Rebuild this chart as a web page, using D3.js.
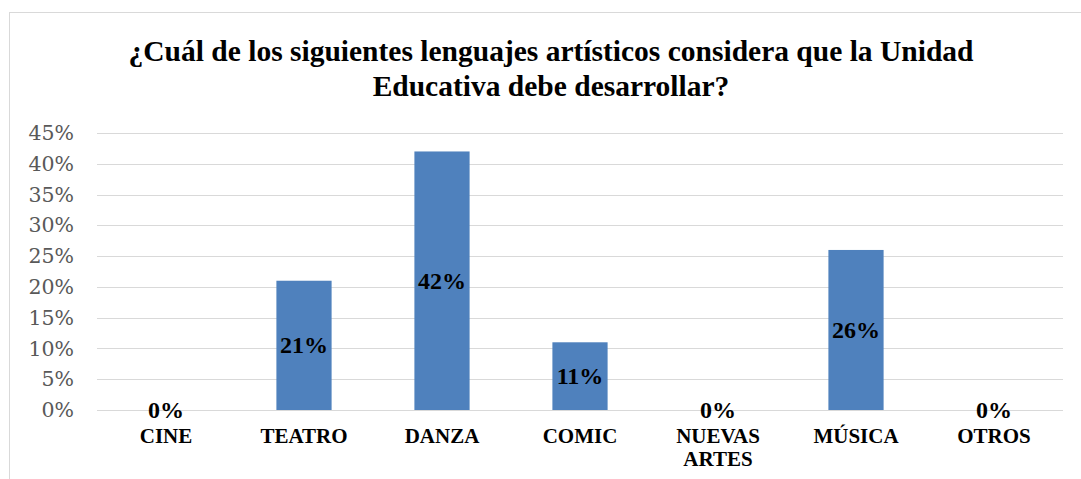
<!DOCTYPE html>
<html>
<head>
<meta charset="utf-8">
<script src="https://cdn.jsdelivr.net/npm/d3@7"></script>
<style>
  body { margin: 0; background: #fff; }
</style>
</head>
<body>
<div id="chart"></div>
<script>
// data
var categories = ["CINE", "TEATRO", "DANZA", "COMIC", "NUEVAS ARTES", "MÚSICA", "OTROS"];
var values = [0, 0.21, 0.42, 0.11, 0, 0.26, 0];
var yTicks = [0, 0.05, 0.10, 0.15, 0.20, 0.25, 0.30, 0.35, 0.40, 0.45];
var titleLines = ["¿Cuál de los siguientes lenguajes artísticos considera que la Unidad",
                  "Educativa debe desarrollar?"];

var W = 1081, H = 479;
var margin = {top: 133, right: 18, bottom: 69, left: 97},
    width = W - margin.left - margin.right,
    height = H - margin.top - margin.bottom;

var svg = d3.select("#chart")
  .append("svg")
    .attr("width", W)
    .attr("height", H);

// outer chart border
svg.append("rect")
  .attr("x", 9.5).attr("y", 12.5)
  .attr("width", W).attr("height", H)
  .style("fill", "none")
  .style("stroke", "#d9d9d9");

// title
svg.append("text")
  .attr("x", 551)
  .attr("text-anchor", "middle")
  .style("font-family", "'Liberation Serif', 'Times New Roman', serif")
  .style("font-weight", "bold")
  .style("font-size", "29.5px")
  .selectAll("tspan")
  .data(titleLines)
  .enter()
  .append("tspan")
    .attr("x", 551)
    .attr("y", function(d, i) { return 61 + i * 35; })
    .text(function(d) { return d; });

var g = svg.append("g")
  .attr("transform", "translate(" + margin.left + "," + margin.top + ")");

var x = d3.scaleBand()
  .domain(categories)
  .range([0, width])
  .paddingInner(0.6)
  .paddingOuter(0.3);

var y = d3.scaleLinear()
  .domain([0, 0.45])
  .range([height, 0]);

// gridlines
g.append("g")
  .selectAll("line")
  .data(yTicks)
  .enter()
  .append("line")
    .attr("x1", 0)
    .attr("x2", width)
    .attr("y1", function(d) { return Math.round(y(d)) + 0.5; })
    .attr("y2", function(d) { return Math.round(y(d)) + 0.5; })
    .style("stroke", "#d9d9d9")
    .style("stroke-width", 1);

// y axis labels
var yAxis = g.append("g")
  .call(d3.axisLeft(y).tickValues(yTicks).tickFormat(d3.format(".0%")).tickSize(0).tickPadding(23));
yAxis.select(".domain").remove();
yAxis.selectAll("text")
  .style("font-family", "'DejaVu Serif', Cambria, serif")
  .style("font-size", "20.5px")
  .style("fill", "#595959");

// bars
g.append("g")
  .selectAll("rect")
  .data(values)
  .enter()
  .append("rect")
    .attr("x", function(d, i) { return x(categories[i]); })
    .attr("y", function(d) { return y(d); })
    .attr("width", x.bandwidth())
    .attr("height", function(d) { return height - y(d); })
    .style("fill", "#4f81bd");

// data labels
g.append("g")
  .selectAll("text")
  .data(values)
  .enter()
  .append("text")
    .attr("x", function(d, i) { return x(categories[i]) + x.bandwidth() / 2; })
    .attr("y", function(d) { return d > 0 ? (y(d) + height) / 2 + 8 : height + 8; })
    .attr("text-anchor", "middle")
    .style("font-family", "'Liberation Serif', 'Times New Roman', serif")
    .style("font-weight", "bold")
    .style("font-size", "24px")
    .style("fill", "#000")
    .text(function(d) { return d3.format(".0%")(d); });

// category labels
var cat = g.append("g")
  .selectAll("text")
  .data(categories)
  .enter()
  .append("text")
    .attr("text-anchor", "middle")
    .style("font-family", "'Liberation Serif', 'Times New Roman', serif")
    .style("font-weight", "bold")
    .style("font-size", "21px")
    .style("fill", "#000");
cat.selectAll("tspan")
  .data(function(d) { return d.split(" ").map(function(w) { return {w: w, c: d}; }); })
  .enter()
  .append("tspan")
    .attr("x", function(d) { return x(d.c) + x.bandwidth() / 2; })
    .attr("y", function(d, i) { return height + 33 + i * 23; })
    .text(function(d) { return d.w; });
</script>
</body>
</html>
